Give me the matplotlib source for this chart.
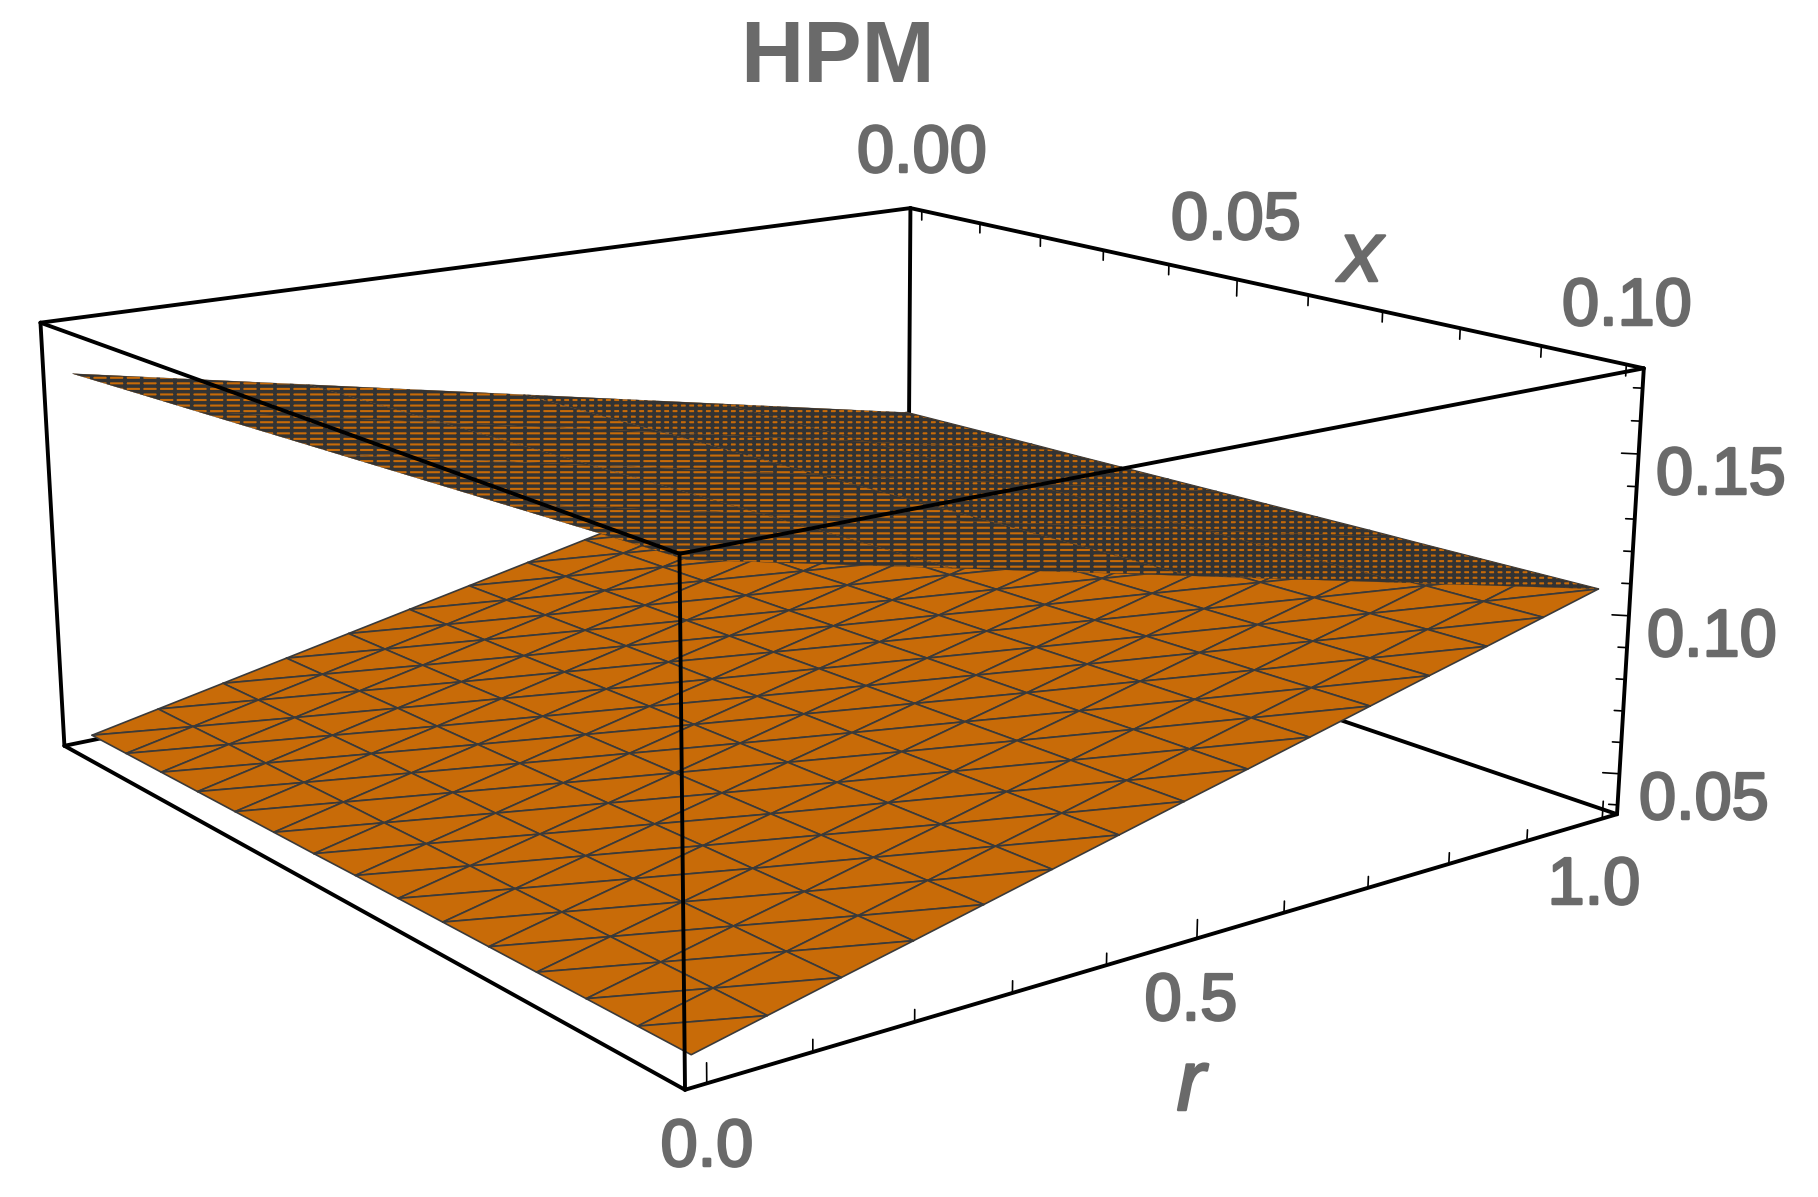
#!/usr/bin/env python3

import matplotlib
matplotlib.use('Agg')
import matplotlib.pyplot as plt
import matplotlib.patheffects as pe
import numpy as np

# surface grid, 15 points per direction
r_grid = [0, 1/14, 2/14, 3/14, 4/14, 5/14, 6/14, 7/14, 8/14, 9/14, 10/14, 11/14, 12/14, 13/14, 1]
x_grid = [0, 0.1/14, 0.2/14, 0.3/14, 0.4/14, 0.5/14, 0.6/14, 0.7/14, 0.8/14, 0.9/14, 1/14, 1.1/14, 1.2/14, 1.3/14, 0.1]

# lower surface, one row per r value
lower_z = [
    [.0410, .0411, .0412, .0413, .0414, .0415, .0416, .0418, .0419, .0420, .0421, .0422, .0423, .0424, .0425],
    [.0453, .0454, .0456, .0457, .0458, .0460, .0461, .0463, .0464, .0465, .0467, .0468, .0469, .0471, .0472],
    [.0496, .0498, .0499, .0501, .0503, .0504, .0506, .0507, .0509, .0511, .0512, .0514, .0516, .0517, .0519],
    [.0539, .0541, .0543, .0545, .0546, .0548, .0550, .0552, .0554, .0556, .0558, .0559, .0561, .0563, .0565],
    [.0582, .0584, .0586, .0588, .0591, .0593, .0595, .0597, .0599, .0601, .0603, .0606, .0608, .0610, .0612],
    [.0625, .0627, .0630, .0632, .0635, .0637, .0640, .0642, .0644, .0647, .0649, .0652, .0654, .0657, .0659],
    [.0668, .0671, .0673, .0676, .0679, .0682, .0684, .0687, .0690, .0692, .0695, .0698, .0701, .0703, .0706],
    [.0711, .0714, .0717, .0720, .0723, .0726, .0729, .0732, .0735, .0738, .0741, .0744, .0747, .0750, .0753],
    [.0754, .0757, .0760, .0764, .0767, .0770, .0773, .0776, .0780, .0783, .0786, .0789, .0793, .0796, .0799],
    [.0797, .0801, .0804, .0808, .0811, .0815, .0818, .0822, .0825, .0829, .0832, .0836, .0839, .0843, .0846],
    [.0840, .0844, .0848, .0851, .0855, .0859, .0863, .0867, .0870, .0874, .0878, .0882, .0885, .0889, .0893],
    [.0883, .0887, .0891, .0895, .0899, .0903, .0907, .0911, .0916, .0920, .0924, .0928, .0932, .0936, .0940],
    [.0926, .0930, .0935, .0939, .0943, .0947, .0952, .0956, .0960, .0965, .0969, .0973, .0977, .0982, .0986],
    [.0969, .0974, .0978, .0983, .0987, .0992, .0996, .1001, .1006, .1010, .1015, .1019, .1024, .1028, .1033],
    [.1012, .1017, .1022, .1027, .1031, .1036, .1041, .1046, .1051, .1056, .1061, .1065, .1070, .1075, .1080],
]

# upper surface is practically flat, a coarse table is enough
upper_r = [0, 0.25, 0.5, 0.75, 1]
upper_x = [0, 0.025, 0.05, 0.075, 0.1]
upper_z = [
    [.1600, .1630, .1660, .1690, .1720],
    [.1453, .1480, .1507, .1533, .1560],
    [.1306, .1330, .1353, .1377, .1400],
    [.1159, .1179, .1200, .1220, .1240],
    [.1012, .1029, .1046, .1063, .1080],
]

x_ticks = [0, .01, .02, .03, .04, .05, .06, .07, .08, .09, .10]
x_major = [.05]
r_ticks = [0, .1, .2, .3, .4, .5, .6, .7, .8, .9, 1]
r_major = [0, .5, 1]
z_ticks = [.04, .05, .06, .07, .08, .09, .10, .11, .12, .13, .14, .15, .16, .17]
z_major = [.05, .10, .15]

# plot range with padding
x_lim = (-0.002, 0.102)
r_lim = (-0.02, 1.02)
z_lim = (0.037, 0.176)

W, H = 1818, 1197
GRAY = '#6a6a6a'
ORANGE = '#c86b08'
MESH = '#3a3a3a'

plt.rcParams['font.family'] = ['Liberation Sans', 'DejaVu Sans']
plt.rcParams['hatch.linewidth'] = 2.5

fig = plt.figure(figsize=(W/100, H/100), dpi=100)
side = 1818.
left, bottom = -114.5, -302.0
ax = fig.add_axes([left/W, bottom/H, side/W, side/H], projection='3d', computed_zorder=False)
ax.set_proj_type('persp', focal_length=0.3765)
ax.view_init(elev=15.3, azim=-37.15)
ax.set_box_aspect((1, 1, 0.4), zoom=0.883)
ax.set_axis_off()
ax.patch.set_alpha(0)


def edge(p, q, z, lw=2.8):
    ax.plot([p[0], q[0]], [p[1], q[1]], [p[2], q[2]], color='k', lw=lw, zorder=z, solid_capstyle='round')


x0, x1 = x_lim
r0, r1 = r_lim
z0, z1 = z_lim

# back edges go under the surfaces
edge((x0, r0, z0), (x0, r1, z0), 1)
edge((x0, r1, z0), (x1, r1, z0), 1)
edge((x0, r1, z0), (x0, r1, z1), 1)

# lower surface, triangulated like the Mathematica mesh
n = len(r_grid)
xx, rr = np.meshgrid(x_grid, r_grid)
tris = []
for i in range(n-1):
    for j in range(n-1):
        a = i*n + j
        tris.append([a, a+1, a+n+1])
        tris.append([a, a+n+1, a+n])
ax.plot_trisurf(xx.ravel(), rr.ravel(), np.array(lower_z).ravel(), triangles=tris, color=ORANGE,
                shade=False, edgecolor=MESH, linewidth=1.2, zorder=2)

# upper surface, mesh so fine that it is nearly solid, looks denser towards the far side
ux, ur = np.meshgrid(upper_x, upper_r)
uz = np.array(upper_z)
ax.plot_surface(ux[:3], ur[:3], uz[:3], color=ORANGE, shade=False, edgecolor='#333333',
                linewidth=0.2, hatch='---|', rstride=1, cstride=1, zorder=3)
ax.plot_surface(ux[2:], ur[2:], uz[2:], color=ORANGE, shade=False, edgecolor='#333333',
                linewidth=0.2, hatch='---||', rstride=1, cstride=1, zorder=3)

# remaining box edges
edge((x0, r0, z1), (x0, r1, z1), 4)
edge((x0, r1, z1), (x1, r1, z1), 4)
edge((x1, r1, z1), (x1, r0, z1), 4)
edge((x1, r0, z1), (x0, r0, z1), 4)
edge((x0, r0, z0), (x1, r0, z0), 4)
edge((x1, r0, z0), (x1, r1, z0), 4)
edge((x0, r0, z0), (x0, r0, z1), 4)
edge((x1, r0, z0), (x1, r0, z1), 4)
edge((x1, r1, z0), (x1, r1, z1), 4)

# ticks
for t in r_ticks:
    length = 0.04 if t in r_major else 0.025
    edge((x1, t, z0), (x1, t, z0 + length*(z1-z0)), 5, lw=1.2)
for t in x_ticks:
    length = 0.04 if t in x_major else 0.025
    edge((t, r1, z1), (t, r1, z1 - length*(z1-z0)), 5, lw=1.2)
for t in z_ticks:
    length = 0.0094 if t in z_major else 0.005
    edge((x1, r1, t), (x1 - 1.145*length*(x1-x0), r1 - length*(r1-r0), t), 5, lw=1.2)

ax.set_xlim(x_lim, view_margin=0)
ax.set_ylim(r_lim, view_margin=0)
ax.set_zlim(z_lim, view_margin=0)

# tick labels, text positions in pixels of the image
labels = ['0.00', '0.05', '0.10', '0.15', '0.10', '0.05', '1.0', '0.5', '0.0']
label_x = [922, 1236, 1627, 1721, 1712, 1704, 1594, 1191, 707]
label_y = [155, 222, 308, 477, 639, 802, 887, 1003, 1149]
stroke = [pe.withStroke(linewidth=1.8, foreground=GRAY)]
for s, px, py in zip(labels, label_x, label_y):
    fig.text(px/W, 1 - py/H, s, color=GRAY, fontsize=48, ha='center', va='center', path_effects=stroke)

fig.text(837/W, 1 - 60/H, 'HPM', color=GRAY, fontsize=63, fontweight='bold', ha='center', va='center')
fig.text(1361/W, 1 - 259/H, 'x', color=GRAY, fontsize=62, style='italic', ha='center', va='center', path_effects=stroke)
fig.text(1191/W, 1 - 1088/H, 'r', color=GRAY, fontsize=62, style='italic', ha='center', va='center', path_effects=stroke)

plt.savefig('out.png', dpi=100)
